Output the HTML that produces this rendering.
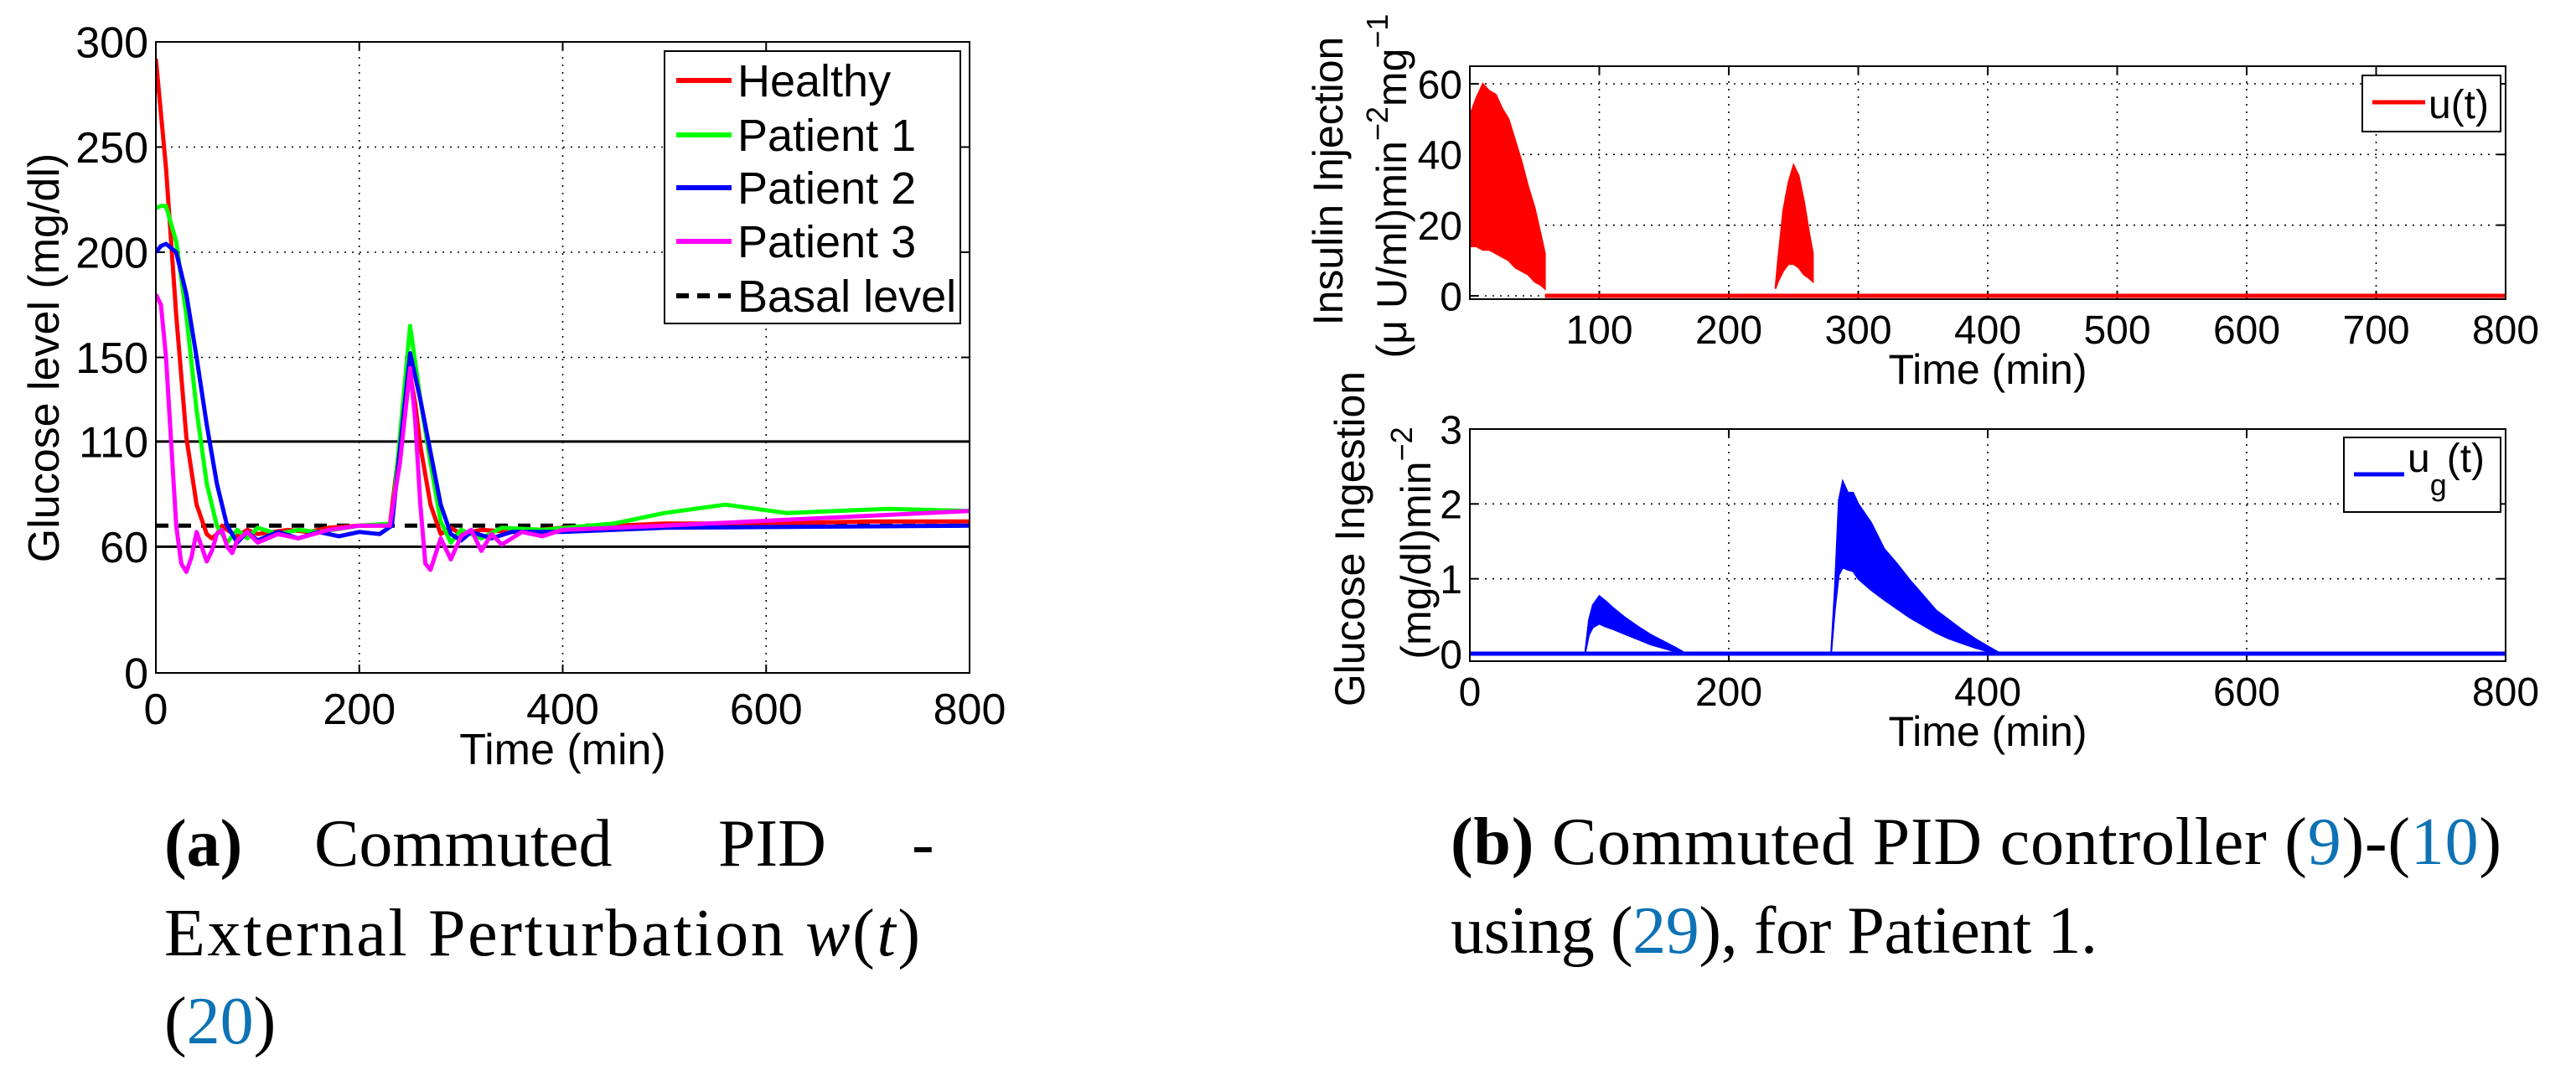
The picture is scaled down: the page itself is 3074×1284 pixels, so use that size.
<!DOCTYPE html>
<html><head><meta charset="utf-8"><style>
html,body{margin:0;padding:0;background:#fff;}
svg{display:block;}
text{font-family:"Liberation Sans",sans-serif;}
.cap{font-family:"Liberation Serif",serif;font-size:80px;}
.lnk{fill:#0e72b5;}
</style></head><body>
<svg id="fig" xmlns="http://www.w3.org/2000/svg" width="3074" height="1284" viewBox="0 0 3074 1284">
<g id="chartA"></g>
<g id="chartB"></g>
<g id="chartC"></g>
<g>
<text class="cap" x="196" y="1033" font-weight="bold">(a)</text>
<text class="cap" x="375" y="1033">Commuted</text>
<text class="cap" x="857" y="1033">PID</text>
<text class="cap" x="1088" y="1033">-</text>
<text class="cap" x="196" y="1140" textLength="902" lengthAdjust="spacing">External Perturbation <tspan font-style="italic">w</tspan>(<tspan font-style="italic">t</tspan>)</text>
<text class="cap" x="196" y="1245">(<tspan class="lnk">20</tspan>)</text>
</g>
<g>
<text class="cap" x="1731" y="1031" textLength="1254" lengthAdjust="spacing"><tspan font-weight="bold">(b)</tspan> Commuted PID controller (<tspan class="lnk">9</tspan>)-(<tspan class="lnk">10</tspan>)</text>
<text class="cap" x="1731" y="1137" textLength="772" lengthAdjust="spacing">using (<tspan class="lnk">29</tspan>), for Patient 1.</text>
</g>
</svg>
<script>
// ---------- Chart A data ----------
const xTicksA = [0, 200, 400, 600, 800];
const yTicksA = [0, 60, 110, 150, 200, 250, 300];
const yGridA = [150, 200, 250];
const refLevels = [60, 110];
const basalLevel = 70;
const healthyT = [0,10,20,30,40,50,55,60,65,70,80,90,100,115,130,150,170,200,230,240,250,255,260,270,280,290,300,320,350,400,500,600,700,800];
const healthyV = [292,240,170,112,80,66,64,66,70,68,65,68,66,67,68,67,69,70,70,110,142,128,108,80,66,69,66,68,67,69,71,71,72,72];
const p1T = [0,5,10,20,30,40,50,60,70,80,90,100,120,140,160,200,232,250,260,270,280,290,300,320,340,380,450,500,560,620,720,800];
const p1V = [221,222,222,205,170,125,90,70,62,68,64,69,66,68,67,70,71,165,130,100,72,62,68,64,69,68,71,76,80,76,78,77];
const p2T = [0,5,10,20,30,40,50,60,70,80,90,100,120,140,160,180,200,220,232,250,260,270,280,290,300,310,330,350,400,500,800];
const p2V = [200,203,204,200,180,150,118,90,70,62,67,63,67,64,67,65,67,66,70,152,130,105,80,66,63,67,64,67,67,69,70];
const p3T = [0,5,10,15,20,25,30,35,40,45,50,55,60,65,70,75,80,90,100,120,140,170,200,230,240,250,255,260,265,270,280,290,300,310,320,330,340,360,380,400,500,800];
const p3V = [180,175,150,110,70,52,48,55,67,60,53,58,66,68,60,57,63,67,62,66,64,68,70,70,100,145,120,80,52,49,64,54,65,68,58,66,61,67,65,68,70,77];
const seriesNames = ["Healthy","Patient 1","Patient 2","Patient 3"];
const seriesColors = ["#ff0000","#00ff00","#0000ff","#ff00ff"];

// ---------- Chart B data ----------
const xTicksB = [100,200,300,400,500,600,700,800];
const xGridB = [100,200,300,400,500,600,700];
const yTicksB = [0,20,40,60];
const uT1 = [0,1,5,10,15,20,25,30,35,40,45,50,55,58];
const uHi1 = [30,52,56,60,58,57,53,50,44,38,31,25,17,12];
const uLo1 = [14,14,14,13,13,12,11,10,8,7,6,4,3,2];
const uT2 = [236,238,242,246,250,254,258,262,265];
const uHi2 = [2,10,24,32,37,34,27,18,12];
const uLo2 = [2,4,7,9,9,8,6,5,4];

// ---------- Chart C data ----------
const xTicksC = [0,200,400,600,800];
const yTicksC = [0,1,2,3];
const gT1 = [89,92,95,100,105,110,120,130,140,150,160,167];
const gHi1 = [0,0.45,0.65,0.77,0.7,0.62,0.48,0.36,0.25,0.16,0.07,0];
const gLo1 = [0,0.25,0.35,0.4,0.36,0.33,0.26,0.19,0.12,0.07,0.02,0];
const gT2 = [279,282,285,288,292,296,300,310,320,330,340,350,360,370,380,390,400,410];
const gHi2 = [0,0.9,2.05,2.3,2.15,2.15,2.0,1.75,1.4,1.2,0.98,0.78,0.58,0.45,0.32,0.2,0.1,0];
const gLo2 = [0,0.6,1.05,1.15,1.12,1.1,1.0,0.85,0.72,0.6,0.48,0.38,0.28,0.2,0.14,0.08,0.03,0];

const NS = "http://www.w3.org/2000/svg";
function mk(parent, tag, attrs, txt){
  const e = document.createElementNS(NS, tag);
  for (const k in attrs) e.setAttribute(k, attrs[k]);
  if (txt !== undefined) e.textContent = txt;
  parent.appendChild(e);
  return e;
}
function lin(d0,d1,r0,r1){ return v => r0 + (v-d0)*(r1-r0)/(d1-d0); }
function ptsOf(ts, vs, sx, sy){ return ts.map((t,i)=>sx(t).toFixed(1)+","+sy(vs[i]).toFixed(1)).join(" "); }

function frame(g, L, T, R, B, xs, ys, xTicks, yTicks, xGrid, yGrid, fs, xLabY, yLabRight, showX){
  for (const v of xGrid){
    const gl = mk(g,"line",{x1:xs(v),x2:xs(v),y1:T,y2:B,stroke:"#000","stroke-width":1.6,"stroke-dasharray":"2,7"});
    
    
  }
  for (const v of yGrid){
    const gl = mk(g,"line",{x1:L,x2:R,y1:ys(v),y2:ys(v),stroke:"#000","stroke-width":1.6,"stroke-dasharray":"2,7"});
    
    
  }
  for (const v of xTicks){
    mk(g,"line",{x1:xs(v),x2:xs(v),y1:B,y2:B-10,stroke:"#000","stroke-width":2});
    mk(g,"line",{x1:xs(v),x2:xs(v),y1:T,y2:T+10,stroke:"#000","stroke-width":2});
    if (showX){
      const t = mk(g,"text",{x:xs(v),y:xLabY,"font-size":fs,"text-anchor":"middle"},String(v));
      
      
    }
  }
  for (const v of yTicks){
    mk(g,"line",{x1:L,x2:L+10,y1:ys(v),y2:ys(v),stroke:"#000","stroke-width":2});
    mk(g,"line",{x1:R,x2:R-10,y1:ys(v),y2:ys(v),stroke:"#000","stroke-width":2});
    const t = mk(g,"text",{x:yLabRight,y:ys(v)+fs*0.36,"font-size":fs,"text-anchor":"end"},String(v));
    
    
  }
}
function box(g,L,T,R,B){
  const b = mk(g,"rect",{x:L,y:T,width:R-L,height:B-T,fill:"none",stroke:"#000","stroke-width":2});
  
  
}

// ===== Chart A =====
(function(){
  const g = document.getElementById("chartA");
  const L=186,R=1157,T=50,B=803;
  const xs = lin(0,800,L,R), ys = lin(0,300,B,T);
  const clip = mk(g,"clipPath",{id:"clipA"}); mk(clip,"rect",{x:L,y:T,width:R-L,height:B-T});
  frame(g,L,T,R,B,xs,ys,xTicksA,yTicksA,[200,400,600],yGridA,52,864,177,true);
  const plot = mk(g,"g",{"clip-path":"url(#clipA)"});
  for (const lv of refLevels){
    const l = mk(plot,"line",{x1:L,x2:R,y1:ys(lv),y2:ys(lv),stroke:"#000","stroke-width":3});
    
    
  }
  const Ts=[healthyT,p1T,p2T,p3T], Vs=[healthyV,p1V,p2V,p3V];
  const basal = mk(plot,"line",{x1:L,x2:R,y1:ys(basalLevel),y2:ys(basalLevel),stroke:"#000","stroke-width":5,"stroke-dasharray":"15,12"});
  
  
  for (let i=0;i<4;i++){
    const p = mk(plot,"polyline",{points:ptsOf(Ts[i],Vs[i],xs,ys),fill:"none",stroke:seriesColors[i],"stroke-width":5,"stroke-linejoin":"round"});
    
    
  }
  box(g,L,T,R,B);
  const xl = mk(g,"text",{x:(L+R)/2,y:912,"font-size":52,"text-anchor":"middle"},"Time (min)");
  
  
  const yl = mk(g,"text",{x:0,y:0,"font-size":52,"text-anchor":"middle",transform:"translate(70,427) rotate(-90)"},"Glucose level (mg/dl)");
  
  
  const lg = mk(g,"g",{});
  
  
  mk(lg,"rect",{x:793,y:61,width:353,height:325,fill:"#fff",stroke:"#000","stroke-width":2});
  const names = seriesNames.concat(["Basal level"]);
  const cols = seriesColors.concat(["#000"]);
  const ey=[96,161,224,288,353];
  for (let i=0;i<5;i++){
    const e = mk(lg,"g",{});
    
    
    mk(e,"line",{x1:807,x2:873,y1:ey[i],y2:ey[i],stroke:cols[i],"stroke-width":6,"stroke-dasharray":i==4?"15,10":"none"});
    mk(e,"text",{x:880,y:ey[i]+19,"font-size":54},names[i]);
  }
})();

// ===== Chart B =====
(function(){
  const g = document.getElementById("chartB");
  const L=1754,R=2990,T=79,B=357;
  const xs = lin(0,800,L,R), ys = lin(0,60,353,100);
  frame(g,L,T,R,B,xs,ys,xTicksB,yTicksB,xGridB,yTicksB,48,410,1745,true);
  const draw = (ts,hi,lo)=>{
    const pts = ptsOf(ts,hi,xs,ys)+" "+ptsOf(ts.slice().reverse(),lo.slice().reverse(),xs,ys);
    const p = mk(g,"polygon",{points:pts,fill:"#ff0000",stroke:"#ff0000","stroke-width":2});
    
    
  };
  draw(uT1,uHi1,uLo1); draw(uT2,uHi2,uLo2);
  const base = mk(g,"line",{x1:xs(uT1[uT1.length-1]),x2:R,y1:ys(0),y2:ys(0),stroke:"#ff0000","stroke-width":5});
  
  
  box(g,L,T,R,B);
  const xl = mk(g,"text",{x:(L+R)/2,y:458,"font-size":50,"text-anchor":"middle"},"Time (min)");
  
  
  const y1 = mk(g,"text",{x:0,y:0,"font-size":50,"text-anchor":"middle",transform:"translate(1602,216) rotate(-90)"},"Insulin Injection");
  
  
  const y2 = mk(g,"text",{x:0,y:0,"font-size":50,"text-anchor":"middle",transform:"translate(1678,222) rotate(-90)"});
  
  
  y2.innerHTML = '(μ U/ml)min<tspan dy="-22" font-size="36">−2</tspan><tspan dy="22">mg</tspan><tspan dy="-22" font-size="36">−1</tspan>';
  const lg = mk(g,"g",{});
  
  
  mk(lg,"rect",{x:2819,y:90,width:165,height:67,fill:"#fff",stroke:"#000","stroke-width":2});
  mk(lg,"line",{x1:2831,x2:2894,y1:122,y2:122,stroke:"#ff0000","stroke-width":5});
  mk(lg,"text",{x:2898,y:141,"font-size":48},"u(t)");
})();

// ===== Chart C =====
(function(){
  const g = document.getElementById("chartC");
  const L=1754,R=2990,T=512,B=789;
  const xs = lin(0,800,L,R), ys = lin(0,3,780,512);
  frame(g,L,T,R,B,xs,ys,xTicksC,yTicksC,[200,400,600],[0,1,2],48,842,1745,true);
  const draw = (ts,hi,lo)=>{
    const pts = ptsOf(ts,hi,xs,ys)+" "+ptsOf(ts.slice().reverse(),lo.slice().reverse(),xs,ys);
    const p = mk(g,"polygon",{points:pts,fill:"#0000ff",stroke:"#0000ff","stroke-width":2});
    
    
  };
  draw(gT1,gHi1,gLo1); draw(gT2,gHi2,gLo2);
  const base = mk(g,"line",{x1:L,x2:R,y1:ys(0),y2:ys(0),stroke:"#0000ff","stroke-width":5});
  
  
  box(g,L,T,R,B);
  const xl = mk(g,"text",{x:(L+R)/2,y:890,"font-size":50,"text-anchor":"middle"},"Time (min)");
  
  
  const y1 = mk(g,"text",{x:0,y:0,"font-size":50,"text-anchor":"middle",transform:"translate(1628,643) rotate(-90)"},"Glucose Ingestion");
  
  
  const y2 = mk(g,"text",{x:0,y:0,"font-size":50,"text-anchor":"middle",transform:"translate(1707,648) rotate(-90)"});
  
  
  y2.innerHTML = '(mg/dl)min<tspan dy="-22" font-size="36">−2</tspan>';
  const lg = mk(g,"g",{});
  
  
  mk(lg,"rect",{x:2797,y:522,width:187,height:89,fill:"#fff",stroke:"#000","stroke-width":2});
  mk(lg,"line",{x1:2809,x2:2869,y1:566,y2:566,stroke:"#0000ff","stroke-width":5});
  const t = mk(lg,"text",{x:2873,y:563,"font-size":48});
  t.innerHTML = 'u<tspan dy="28" font-size="36">g</tspan><tspan dy="-28">(t)</tspan>';
})();
</script>
</body></html>
